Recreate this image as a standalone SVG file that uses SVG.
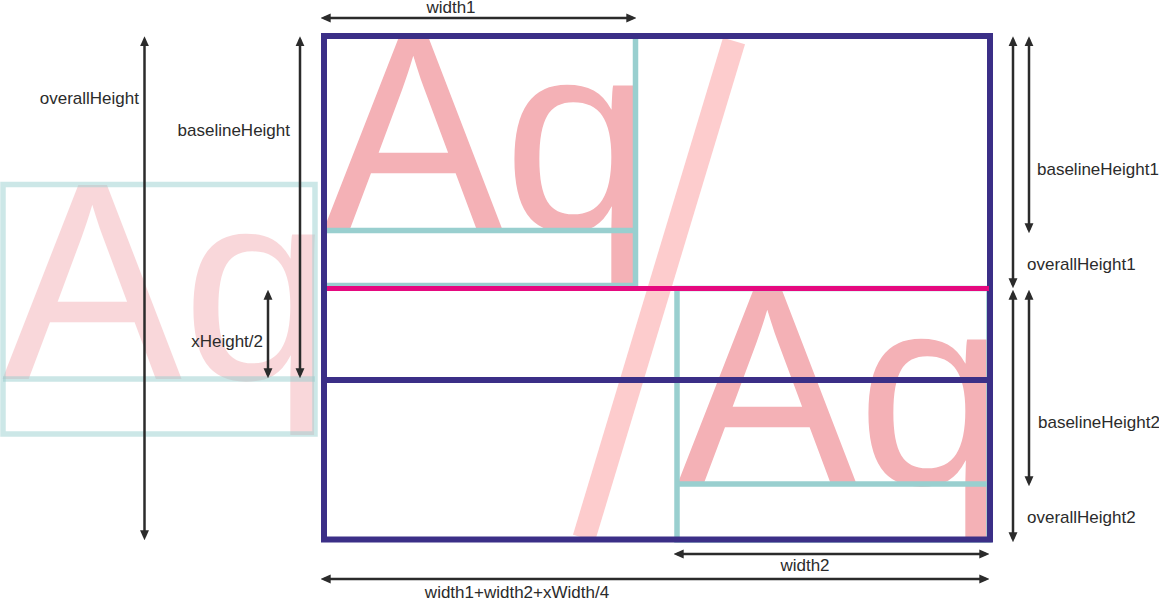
<svg xmlns="http://www.w3.org/2000/svg" width="1159" height="600" viewBox="0 0 1159 600">
<defs>
<style>
.glyph{font-family:"Liberation Sans",Arial,sans-serif;font-size:270px;fill:#f4b1b6}
.teal{fill:none;stroke:#99cfcf;stroke-width:5.5}
.purple{fill:none;stroke:#3b2f87;stroke-width:6}
.mag{stroke:#e5097f;stroke-width:5}
.dim{stroke:#2b2b2b;stroke-width:2.5;fill:none;marker-start:url(#ah);marker-end:url(#ah)}
.lbl{font-family:"Liberation Sans",Arial,sans-serif;font-size:17px;fill:#2b2b2b}
</style>
<marker id="ah" markerUnits="userSpaceOnUse" markerWidth="10" markerHeight="10" viewBox="0 0 9 8" refX="6" refY="4" orient="auto-start-reverse">
<path d="M0,0 L9,4 L0,8 z" fill="#2b2b2b"/>
</marker>
</defs>

<g id="combined-faded">
<text class="glyph" transform="translate(2,379) scale(1,1.045)" opacity="0.5">A</text>
<text class="glyph" x="182.1" y="379" opacity="0.5">q</text>
<rect x="3" y="184.5" width="312" height="249.5" fill="none" stroke="#99cfcf" stroke-width="5.5" opacity="0.5"/>
<line x1="3" y1="379" x2="315" y2="379" stroke="#99cfcf" stroke-width="5.5" opacity="0.5"/>
</g>

<g id="slash">
<line x1="734" y1="41" x2="584" y2="538" stroke="#fdcccd" stroke-width="23"/>
</g>

<g id="glyph-box-1">
<text class="glyph" transform="translate(323,230) scale(1,1.045)">A</text>
<text class="glyph" x="503.1" y="230">q</text>
<rect class="teal" x="324" y="36" width="311.5" height="249.5"/>
<line class="teal" x1="324" y1="230.5" x2="635.5" y2="230.5"/>
</g>

<g id="glyph-box-2">
<text class="glyph" transform="translate(677,484) scale(1,1.045)">A</text>
<text class="glyph" x="857.1" y="484">q</text>
<rect class="teal" x="677" y="288.5" width="312" height="251.5"/>
<line class="teal" x1="677" y1="484" x2="989" y2="484"/>
</g>

<g id="outer-box">
<rect class="purple" x="324" y="36" width="666" height="503.5"/>
<line class="purple" x1="324" y1="380" x2="990" y2="380"/>
<line class="mag" x1="327" y1="288.5" x2="989" y2="288.5"/>
</g>

<g id="connectors">
<line class="dim" x1="144.5" y1="39.5" x2="144.5" y2="537"/>
<line class="dim" x1="300" y1="39.5" x2="300" y2="375"/>
<line class="dim" x1="268" y1="293" x2="268" y2="375"/>
<line class="dim" x1="324" y1="18" x2="633" y2="18"/>
<line class="dim" x1="1013" y1="39.5" x2="1013" y2="285"/>
<line class="dim" x1="1013" y1="293" x2="1013" y2="539"/>
<line class="dim" x1="1029" y1="39.5" x2="1029" y2="230"/>
<line class="dim" x1="1029" y1="293" x2="1029" y2="483"/>
<line class="dim" x1="677" y1="554" x2="986" y2="554"/>
<line class="dim" x1="324" y1="579" x2="986" y2="579"/>
</g>

<g id="labels">
<text class="lbl" x="139" y="104" text-anchor="end">overallHeight</text>
<text class="lbl" x="290" y="136" text-anchor="end">baselineHeight</text>
<text class="lbl" x="263" y="347" text-anchor="end">xHeight/2</text>
<text class="lbl" x="451" y="12.5" text-anchor="middle">width1</text>
<text class="lbl" x="1037" y="175">baselineHeight1</text>
<text class="lbl" x="1027" y="270">overallHeight1</text>
<text class="lbl" x="1038" y="428">baselineHeight2</text>
<text class="lbl" x="1027" y="523">overallHeight2</text>
<text class="lbl" x="805" y="571" text-anchor="middle">width2</text>
<text class="lbl" x="517" y="598" text-anchor="middle">width1+width2+xWidth/4</text>
</g>
</svg>
